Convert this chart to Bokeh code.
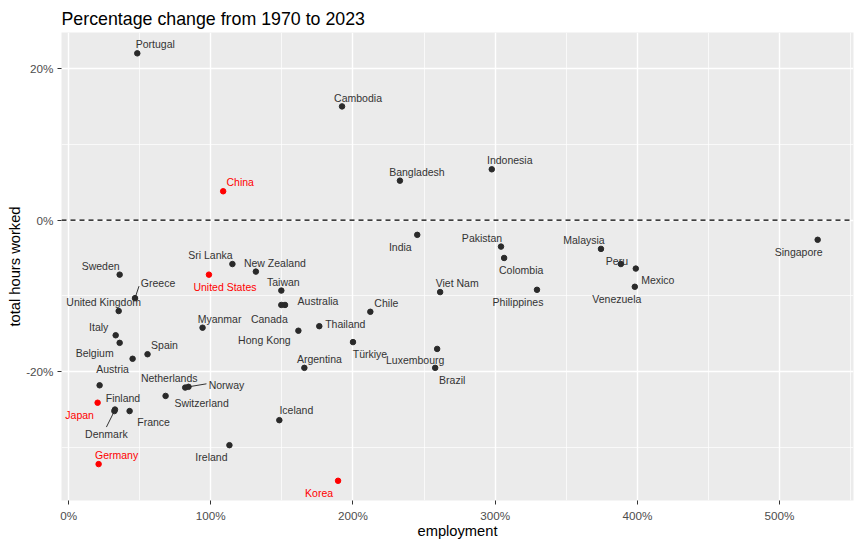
from bokeh.plotting import figure
from bokeh.models import ColumnDataSource, FixedTicker, PrintfTickFormatter, Span, Range1d
from bokeh.core.properties import value
from bokeh.embed import file_html
from bokeh.resources import INLINE

# ---- data (percent change 1970 -> 2023) ----
countries = ["Portugal", "Cambodia", "China", "Bangladesh", "Indonesia", "India", "Pakistan",
             "Colombia", "Viet Nam", "Philippines", "Malaysia", "Peru", "Mexico", "Venezuela",
             "Singapore", "Luxembourg", "Brazil", "Sri Lanka", "United States", "New Zealand",
             "Taiwan", "Australia", "Canada", "Myanmar", "Hong Kong", "Thailand", "Chile",
             "Türkiye", "Argentina", "Sweden", "Greece", "United Kingdom", "Italy", "Belgium",
             "", "Spain", "Austria", "Netherlands", "Norway", "Switzerland", "Finland", "Japan",
             "Denmark", "France", "Germany", "Iceland", "Ireland", "Korea"]
employment = [48.3, 192.3, 108.7, 233.0, 297.6, 245.2, 304.1,
              306.3, 261.3, 329.4, 374.4, 388.4, 398.9, 398.2,
              526.8, 259.2, 257.8, 115.2, 98.7, 131.7,
              149.6, 152.2, 149.6, 94.2, 161.6, 176.3, 212.2,
              200.0, 165.8, 35.9, 46.7, 35.2, 33.1, 35.9,
              45.0, 55.5, 21.8, 82.0, 84.3, 68.2, 32.6, 20.4,
              32.2, 42.9, 21.1, 148.2, 113.1, 189.5]
hours = [22.0, 15.0, 3.8, 5.2, 6.7, -1.95, -3.5,
         -5.0, -9.5, -9.2, -3.8, -5.8, -6.4, -8.8,
         -2.6, -17.0, -19.5, -5.8, -7.2, -6.8,
         -9.3, -11.2, -11.2, -14.2, -14.6, -14.0, -12.1,
         -16.1, -19.5, -7.2, -10.3, -12.0, -15.2, -16.2,
         -18.3, -17.7, -21.8, -22.1, -22.0, -23.2, -25.0, -24.1,
         -25.2, -25.2, -32.2, -26.4, -29.7, -34.4]
highlight = ["China", "United States", "Japan", "Germany", "Korea"]

x_ticks = [0, 100, 200, 300, 400, 500]
x_minor = [50, 150, 250, 350, 450, 550]
y_ticks = [-20, 0, 20]
y_minor = [-30, -10, 10]

# ---- label placement (screen pixel offsets, right / down) ----
label_offsets = {
    "Portugal": (18, -9), "Cambodia": (16, -8), "China": (17, -9), "Bangladesh": (17, -9),
    "Indonesia": (18, -9), "India": (-17, 12), "Pakistan": (-19, -9), "Colombia": (17, 12),
    "Viet Nam": (17, -9), "Philippines": (-19, 12), "Malaysia": (-17, -9), "Peru": (-4, -3),
    "Mexico": (22, 11), "Venezuela": (-18, 12), "Singapore": (-19, 12), "Luxembourg": (-22, 11),
    "Brazil": (17, 12), "Sri Lanka": (-22, -9), "United States": (16, 12), "New Zealand": (19, -9),
    "Taiwan": (2, -9), "Australia": (33, -4), "Canada": (-12, 14), "Myanmar": (17, -9),
    "Hong Kong": (-34, 9), "Thailand": (26, -2), "Chile": (16, -9), "Türkiye": (17, 12),
    "Argentina": (15, -9), "Sweden": (-19, -9), "Greece": (23, -15), "United Kingdom": (-15, -9),
    "Italy": (-17, -8), "Belgium": (-25, 10), "": (0, 0), "Spain": (17, -9), "Austria": (13, -16),
    "Netherlands": (-16, -10), "Norway": (38, -2), "Switzerland": (36, 7), "Finland": (8, -12),
    "Japan": (-18, 12), "Denmark": (-8, 23), "France": (24, 11), "Germany": (18, -9),
    "Iceland": (17, -10), "Ireland": (-18, 12), "Korea": (-19, 12),
}
segment_ends = {"Greece": (4, -12), "Norway": (18, -3), "Denmark": (-8, 16)}

FONT = "Liberation Sans"
X0, X1 = -5, 552
Y0, Y1 = -37.0, 24.75
BL, BR, BT, BB = 61, 9, 32, 46
W, H = 862, 546
FW, FH = W - BL - BR, H - BT - BB

colors = ["#FF0000" if c in highlight else "#2a2a2a" for c in countries]
tcolors = ["#FF0000" if c in highlight else "#333333" for c in countries]
src = ColumnDataSource(dict(
    x=employment, y=hours, name=countries, color=colors, tcolor=tcolors,
    xo=[label_offsets[c][0] for c in countries],
    yo=[label_offsets[c][1] for c in countries],
))

p = figure(width=W, height=H, x_range=Range1d(X0, X1), y_range=Range1d(Y0, Y1),
           output_backend="svg", toolbar_location=None,
           min_border_left=BL, min_border_right=BR, min_border_top=BT, min_border_bottom=BB,
           title="Percentage change from 1970 to 2023")

p.background_fill_color = "#EBEBEB"
p.border_fill_color = "white"
p.outline_line_color = None

p.title.text_font = FONT
p.title.text_font_size = "17.8px"
p.title.text_font_style = "normal"
p.title.text_color = "black"
p.title.standoff = 8

for g, t, m in ((p.xgrid, x_ticks, x_minor), (p.ygrid, y_ticks, y_minor)):
    g.ticker = FixedTicker(ticks=t, minor_ticks=m)
    g.grid_line_color = "white"
    g.grid_line_width = 1.4
    g.minor_grid_line_color = "white"
    g.minor_grid_line_width = 0.7

p.xaxis.ticker = FixedTicker(ticks=x_ticks, minor_ticks=x_minor)
p.yaxis.ticker = FixedTicker(ticks=y_ticks, minor_ticks=y_minor)
for ax in (p.xaxis, p.yaxis):
    ax.formatter = PrintfTickFormatter(format="%d%%")
    ax.axis_line_color = None
    ax.major_tick_line_color = "#333333"
    ax.major_tick_out = 4
    ax.major_tick_in = 0
    ax.minor_tick_out = 0
    ax.minor_tick_in = 0
    ax.major_label_text_font = FONT
    ax.major_label_text_font_size = "11.7px"
    ax.major_label_text_color = "#4D4D4D"
    ax.axis_label_text_font = FONT
    ax.axis_label_text_font_size = "14.7px"
    ax.axis_label_text_font_style = "normal"
    ax.axis_label_text_color = "black"
p.xaxis.major_label_standoff = 4
p.xaxis.axis_label_standoff = -2
p.yaxis.major_label_standoff = 4
p.yaxis.axis_label_standoff = 0
p.xaxis.axis_label = "employment"
p.yaxis.axis_label = "total hours worked"

p.add_layout(Span(location=0, dimension="width", line_color="black",
                  line_dash="5 4", line_width=1.1))

# repel segments
sx = FW / (X1 - X0)
sy = FH / (Y1 - Y0)
seg_names = [c for c in countries if c in segment_ends]
x0s = [employment[countries.index(c)] for c in seg_names]
y0s = [hours[countries.index(c)] for c in seg_names]
x1s = [x + segment_ends[c][0] / sx for x, c in zip(x0s, seg_names)]
y1s = [y - segment_ends[c][1] / sy for y, c in zip(y0s, seg_names)]
p.segment(x0=x0s, y0=y0s, x1=x1s, y1=y1s, line_color="#333333", line_width=1)

p.scatter("x", "y", source=src, size=5.5, color="color", line_color="color")
p.text("x", "y", text="name", source=src, x_offset="xo", y_offset="yo",
       text_align="center", text_baseline="middle", text_color="tcolor",
       text_font=value(FONT), text_font_size="10.5px")

open("out.html", "w").write(file_html(p, INLINE))
